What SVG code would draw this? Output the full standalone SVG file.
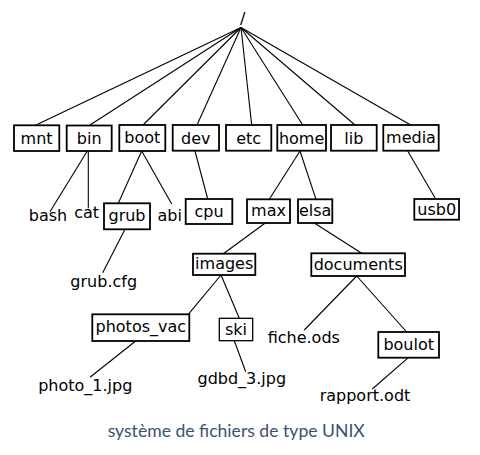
<svg xmlns="http://www.w3.org/2000/svg" width="480" height="455" viewBox="0 0 480 455">
<style>
.b{fill:#fff;stroke:#000;stroke-width:1.8}
.t{font-family:"DejaVu Sans",sans-serif;font-size:16px;fill:#000;text-anchor:middle}
.c line{stroke:#000;stroke-width:1.1}
.cap{font-family:Lato,sans-serif;font-size:17.6px;fill:#3e5178;text-anchor:middle}
</style>
<rect width="480" height="455" fill="#fff"/>
<g class="c" id="connectors">
<line x1="241" y1="27.5" x2="36" y2="125"/>
<line x1="241" y1="27.5" x2="90" y2="125"/>
<line x1="241" y1="27.5" x2="143" y2="125"/>
<line x1="241" y1="27.5" x2="197" y2="125"/>
<line x1="241" y1="27.5" x2="251.7" y2="125"/>
<line x1="241" y1="27.5" x2="302.7" y2="125"/>
<line x1="241" y1="27.5" x2="355" y2="125"/>
<line x1="241" y1="27.5" x2="410.7" y2="125"/>
<line x1="87.3" y1="151" x2="50" y2="211.7"/>
<line x1="88.3" y1="151" x2="88.3" y2="208.3"/>
<line x1="141.7" y1="151" x2="118.3" y2="203.3"/>
<line x1="141.7" y1="151" x2="171.7" y2="204"/>
<line x1="195" y1="151" x2="207.7" y2="199"/>
<line x1="300" y1="151" x2="269.3" y2="199.3"/>
<line x1="300" y1="151" x2="316" y2="199.3"/>
<line x1="407.7" y1="151" x2="435.7" y2="199"/>
<line x1="125" y1="229.3" x2="102.7" y2="272.7"/>
<line x1="265.3" y1="223" x2="223.3" y2="253.7"/>
<line x1="314.3" y1="223" x2="361.7" y2="253.3"/>
<line x1="221" y1="275" x2="188.3" y2="314.3"/>
<line x1="221" y1="275" x2="239.3" y2="318.3"/>
<line x1="356.7" y1="276" x2="304.3" y2="330"/>
<line x1="356.7" y1="276" x2="406.7" y2="332"/>
<line x1="135.7" y1="341" x2="90" y2="377.3"/>
<line x1="234.3" y1="340.7" x2="245.7" y2="371.7"/>
<line x1="408.3" y1="357.7" x2="372.3" y2="389"/>
</g>
<g id="root"><text class="t" x="242.7" y="23.5">/</text></g>
<g id="mnt"><rect class="b" x="14" y="125.3" width="45.3" height="25.7"/><text class="t" x="36.6" y="144">mnt</text></g>
<g id="bin"><rect class="b" x="66.7" y="125.5" width="45" height="25.5"/><text class="t" x="89.2" y="144">bin</text></g>
<g id="boot"><rect class="b" x="119.3" y="125" width="46" height="26"/><text class="t" x="142.3" y="143">boot</text></g>
<g id="dev"><rect class="b" x="172.7" y="125" width="46.3" height="25.7"/><text class="t" x="195.8" y="144">dev</text></g>
<g id="etc"><rect class="b" x="226" y="125" width="45.3" height="25.7"/><text class="t" x="248.6" y="144">etc</text></g>
<g id="home"><rect class="b" x="277.3" y="125" width="48.7" height="25.7"/><text class="t" x="301.6" y="144">home</text></g>
<g id="lib"><rect class="b" x="331" y="125" width="45.7" height="25.7"/><text class="t" x="353.8" y="144">lib</text></g>
<g id="media"><rect class="b" x="383.3" y="125" width="55.4" height="25.7"/><text class="t" x="411" y="143">media</text></g>
<g id="bash"><text class="t" x="48" y="220.7">bash</text></g>
<g id="cat"><text class="t" x="86.7" y="218.3">cat</text></g>
<g id="grub"><rect class="b" x="104" y="203.3" width="46" height="26"/><text class="t" x="127" y="221">grub</text></g>
<g id="abi"><text class="t" x="169.7" y="220.7">abi</text></g>
<g id="cpu"><rect class="b" x="185.7" y="199" width="46.6" height="25"/><text class="t" x="209" y="216.5">cpu</text></g>
<g id="max"><rect class="b" x="247" y="199.3" width="43" height="23.7"/><text class="t" x="268.5" y="215.5">max</text></g>
<g id="elsa"><rect class="b" x="298" y="199.3" width="34.3" height="23.7"/><text class="t" x="315.2" y="215.5">elsa</text></g>
<g id="usb0"><rect class="b" x="414.3" y="199" width="44.7" height="20.7"/><text class="t" x="436.7" y="214.7">usb0</text></g>
<g id="grubcfg"><text class="t" x="103.7" y="286.7">grub.cfg</text></g>
<g id="images"><rect class="b" x="193" y="253.7" width="62.3" height="21.3"/><text class="t" x="224.2" y="268.5">images</text></g>
<g id="documents"><rect class="b" x="311.3" y="253.3" width="93.7" height="22.7"/><text class="t" x="358.2" y="270">documents</text></g>
<g id="photos_vac"><rect class="b" x="92.3" y="314.3" width="97" height="26.7"/><text class="t" x="140.8" y="331.5">photos_vac</text></g>
<g id="ski"><rect class="b" x="219.3" y="318.3" width="33.4" height="22.4" style="stroke-width:1.3"/><text class="t" x="236" y="334.5">ski</text></g>
<g id="fiche"><text class="t" x="303.8" y="342.7">fiche.ods</text></g>
<g id="boulot"><rect class="b" x="378.3" y="332" width="60.7" height="25.7"/><text class="t" x="408.7" y="349.5">boulot</text></g>
<g id="photo1"><text class="t" x="85.3" y="391">photo_1.jpg</text></g>
<g id="gdbd"><text class="t" x="241.8" y="384.3">gdbd_3.jpg</text></g>
<g id="rapport"><text class="t" x="365" y="401">rapport.odt</text></g>
<text class="cap" x="236.2" y="437">système de fichiers de type UNIX</text>
</svg>
